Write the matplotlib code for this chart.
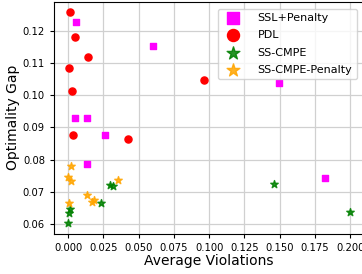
import numpy as np
import matplotlib
matplotlib.use('Agg')
import matplotlib.pyplot as plt

# (average violation, optimality gap) per method
ssl_x = [0.0057, 0.0605, 0.0047, 0.0137, 0.0260, 0.0132, 0.1494, 0.1822]
ssl_y = [0.1228, 0.1152, 0.0928, 0.0928, 0.0876, 0.0786, 0.1039, 0.0743]

pdl_x = [0.0012, 0.0052, 0.0140, 0.0005, 0.0028, 0.0033, 0.0425, 0.0965]
pdl_y = [0.1259, 0.1180, 0.1119, 0.1086, 0.1014, 0.0877, 0.0864, 0.1048]

cmpe_x = [0.0296, 0.0320, 0.0236, 0.0014, 0.0005, 0.0000, 0.1458, 0.1997]
cmpe_y = [0.0722, 0.0716, 0.0665, 0.0647, 0.0634, 0.0601, 0.0724, 0.0637]

cmpe_pen_x = [0.0019, 0.0000, 0.0019, 0.0132, 0.0168, 0.0187, 0.0005, 0.0357]
cmpe_pen_y = [0.0780, 0.0747, 0.0734, 0.0690, 0.0668, 0.0674, 0.0665, 0.0736]

fig = plt.figure(figsize=(3.62, 2.74), dpi=100)
ax = fig.add_axes([54 / 362, 40 / 274, 310 / 362, 232.5 / 274])

ax.scatter(ssl_x, ssl_y, marker='s', s=22, c='magenta', label='SSL+Penalty', zorder=3)
ax.scatter(pdl_x, pdl_y, marker='o', s=26, c='red', label='PDL', zorder=3)
ax.scatter(cmpe_x, cmpe_y, marker='*', s=32, c='green', alpha=0.85, label='SS-CMPE', zorder=3)
ax.scatter(cmpe_pen_x, cmpe_pen_y, marker='*', s=32, c='orange', alpha=0.85,
           label='SS-CMPE-Penalty', zorder=3)

ax.set_xticks(np.arange(0, 0.201, 0.025))
ax.set_yticks(np.arange(0.06, 0.121, 0.01))
ax.tick_params(labelsize=7.2, length=3)
ax.set_xlabel('Average Violations', fontsize=10, labelpad=1)
ax.set_ylabel('Optimality Gap', fontsize=10, labelpad=2)
ax.grid(True, color='#d0d0d0', lw=0.9)
ax.set_axisbelow(True)

leg = ax.legend(loc='upper right', fontsize=8, markerscale=1.7,
                borderaxespad=0.65, handletextpad=1.2, labelspacing=0.65)

fig.savefig('out.png', dpi=100)
